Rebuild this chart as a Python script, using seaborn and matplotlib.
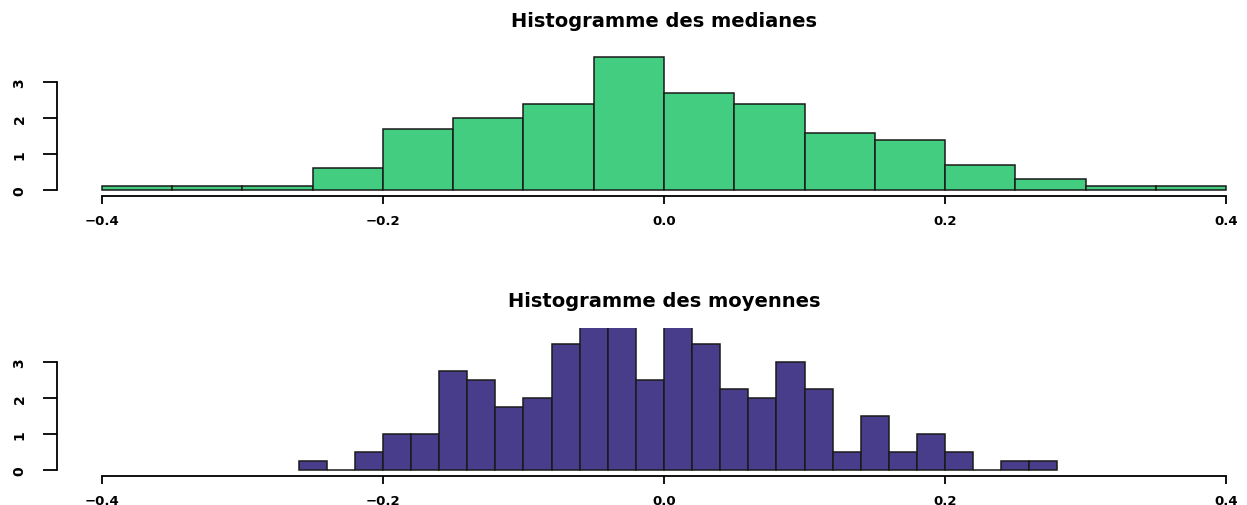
import numpy as np
import pandas as pd
import matplotlib
matplotlib.use("Agg")
import matplotlib.pyplot as plt
import seaborn as sns

# Bin grids and densities of the two histograms
med_edges = np.round(np.linspace(-0.40, 0.40, 17), 2)
med_density = [0.1, 0.1, 0.1, 0.6, 1.7, 2.0, 2.4, 3.7,
               2.7, 2.4, 1.6, 1.4, 0.7, 0.3, 0.1, 0.1]

moy_edges = np.round(np.linspace(-0.26, 0.28, 28), 2)
moy_density = [0.25, 0.0, 0.5, 1.0, 1.0, 2.75, 2.5, 1.75, 2.0, 3.5,
               5.0, 4.75, 2.5, 5.0, 3.5, 2.25, 2.0, 3.0, 2.25, 0.5,
               1.5, 0.5, 1.0, 0.5, 0.0, 0.25, 0.25]

x_ticks = [-0.4, -0.2, 0.0, 0.2, 0.4]
x_labels = ["\u22120.4", "\u22120.2", "0.0", "0.2", "0.4"]
y_ticks = [0, 1, 2, 3]
y_labels = ["0", "1", "2", "3"]

titles = ["Histogramme des medianes", "Histogramme des moyennes"]
colors = ["#43CD80", "#483D8B"]

sns.set_style("white")
plt.rcParams["font.family"] = ["DejaVu Sans"]

W, H = 1247, 506
fig = plt.figure(figsize=(W / 100, H / 100), dpi=100)

# Axes boxes in pixels: left, top, right, bottom (plot region runs past the right edge)
boxes = [(57, 49, 1271, 196.5), (57, 329, 1271, 476.5)]

panels = [(med_edges, med_density), (moy_edges, moy_density)]

for (edges, dens), (l, t, r, b), title, col in zip(panels, boxes, titles, colors):
    ax = fig.add_axes([l / W, 1 - b / H, (r - l) / W, (b - t) / H])
    centers = (edges[:-1] + edges[1:]) / 2
    df = pd.DataFrame({"x": centers, "d": dens})
    sns.histplot(data=df, x="x", weights="d", bins=[float(e) for e in edges],
                 stat="count", color=col, alpha=1.0, edgecolor="#1a1a1a",
                 linewidth=1.1, ax=ax)
    ax.set_xlim(-0.432, 0.432)
    ax.set_ylim(-0.152, 3.952)
    ax.set_xlabel("")
    ax.set_ylabel("")
    ax.set_title(title, fontsize=14, fontweight="bold", color="black", pad=16)

    for s in ["top", "right"]:
        ax.spines[s].set_visible(False)
    ax.spines["bottom"].set_bounds(-0.4, 0.4)
    ax.spines["left"].set_bounds(0, 3)
    for s in ["bottom", "left"]:
        ax.spines[s].set_linewidth(1.3)
        ax.spines[s].set_color("black")

    ax.set_xticks(x_ticks)
    ax.set_xticklabels(x_labels)
    ax.set_yticks(y_ticks)
    ax.set_yticklabels(y_labels)
    ax.tick_params(axis="x", direction="out", length=6, width=1.3, pad=7,
                   labelsize=9.5, labelcolor="black", color="black", bottom=True)
    ax.tick_params(axis="y", direction="out", length=10, width=1.3, pad=12,
                   labelsize=10, labelcolor="black", color="black",
                   labelrotation=90, left=True)
    for lab in ax.get_xticklabels() + ax.get_yticklabels():
        lab.set_fontweight("bold")
    for lab in ax.get_yticklabels():
        lab.set_verticalalignment("center")

fig.savefig("out.png", dpi=100)
